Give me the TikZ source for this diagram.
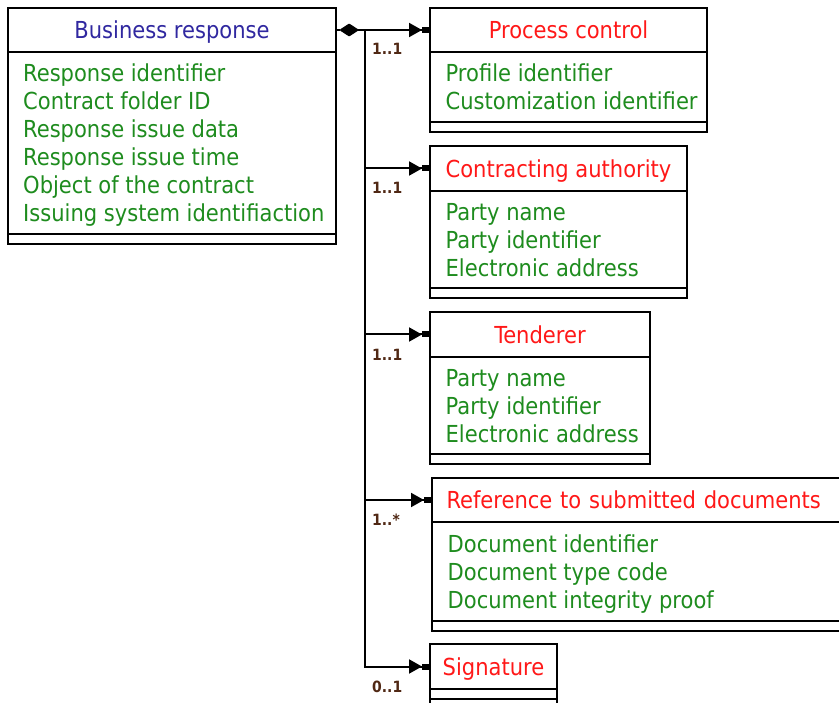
\documentclass[tikz,border=0pt]{standalone}
\usepackage{fontspec}
\setmainfont{DejaVu Sans Condensed}
\usetikzlibrary{arrows.meta,positioning}
\definecolor{ttlblue}{RGB}{48,40,160}
\definecolor{ttlred}{RGB}{255,24,24}
\definecolor{attrgreen}{RGB}{30,140,30}
\definecolor{multc}{RGB}{80,40,20}
\tikzset{
  box/.style={draw=black, line width=2pt, fill=white, inner sep=0pt, outer sep=0pt},
  hdrbox/.style={box, minimum height=44pt, text depth=0pt, font=\fontsize{23.4}{28}\selectfont},
  attrbox/.style={box},
  attrtext/.style={font=\fontsize{23.4}{28}\selectfont, text=attrgreen, align=left, inner sep=0pt, anchor=north west},
  footbox/.style={box, minimum height=10pt},
  conn/.style={line width=2pt},
  tipend/.style={-{Triangle[length=13pt,width=14pt,sep=0pt]Rectangle[length=8pt,width=6pt,sep=0pt]}},
  multlabel/.style={font=\fontsize{15.5}{17}\selectfont\bfseries, text=multc, anchor=west, inner sep=0pt}
}
\begin{document}
\begin{tikzpicture}[x=1pt,y=-1pt]
\useasboundingbox (0,0) rectangle (839,703);
\clip (0,0) rectangle (839,703);
% Business response
\node[hdrbox, minimum width=328pt, text=ttlblue] (br) at (172,30) {Business response};
\node[attrbox, minimum width=328pt, minimum height=182pt, anchor=north] (bra) at (br.south) {};
\node[attrtext] (brt) at ([xshift=15pt,yshift=-12pt]bra.north west)
  {Response identifier\\Contract folder ID\\Response issue data\\Response issue time\\Object of the contract\\Issuing system identifiaction};
\node[footbox, minimum width=328pt, anchor=north] (brf) at (bra.south) {};
% Process control
\node[hdrbox, minimum width=277pt, text=ttlred] (pc) at (568.5,30) {Process control};
\node[attrbox, minimum width=277pt, minimum height=70pt, anchor=north] (pca) at (pc.south) {};
\node[attrtext] (pct) at ([xshift=15.5pt,yshift=-12pt]pca.north west)
  {Profile identifier\\Customization identifier};
\node[footbox, minimum width=277pt, anchor=north] (pcf) at (pca.south) {};
% Contracting authority
\node[hdrbox, minimum width=257pt, minimum height=45pt, text=ttlred] (ca) at (558.5,168.5) {Contracting authority};
\node[attrbox, minimum width=257pt, minimum height=97pt, anchor=north] (caa) at (ca.south) {};
\node[attrtext] (cat) at ([xshift=15.5pt,yshift=-12.5pt]caa.north west)
  {Party name\\Party identifier\\Electronic address};
\node[footbox, minimum width=257pt, anchor=north] (caf) at (caa.south) {};
% Tenderer
\node[hdrbox, minimum width=220pt, minimum height=45pt, text=ttlred] (te) at (540,334.5) {Tenderer};
\node[attrbox, minimum width=220pt, minimum height=97pt, anchor=north] (tea) at (te.south) {};
\node[attrtext] (tet) at ([xshift=15.5pt,yshift=-12.5pt]tea.north west)
  {Party name\\Party identifier\\Electronic address};
\node[footbox, minimum width=220pt, anchor=north] (tef) at (tea.south) {};
% Reference to submitted documents
\node[hdrbox, minimum width=428pt, text=ttlred, text width=399pt, align=left] (rd) at (646,500) {Reference to submitted documents};
\node[attrbox, minimum width=428pt, minimum height=99pt, anchor=north] (rda) at (rd.south) {};
\node[attrtext] (rdt) at ([xshift=15.5pt,yshift=-12.5pt]rda.north west)
  {Document identifier\\Document type code\\Document integrity proof};
\node[footbox, minimum width=428pt, anchor=north] (rdf) at (rda.south) {};
% Signature
\node[hdrbox, minimum width=127pt, minimum height=45pt, text=ttlred] (sg) at (493.5,666.5) {Signature};
\node[footbox, minimum width=127pt, anchor=north] (sga) at (sg.south) {};
\node[footbox, minimum width=127pt, anchor=north] (sgf) at (sga.south) {};
% connectors
\coordinate (j) at ([xshift=29pt]br.east);
\draw[conn, {Diamond[length=20pt,width=13pt,round]}-] ([xshift=4pt]br.east) -- (j);
\draw[conn] (br.east) -- ++(4pt,0);
\draw[conn, tipend] (j) -- (pc.west);
\draw[conn] (j) |- (sg.west);
\draw[conn, tipend] (j) |- (ca.west);
\draw[conn, tipend] (j) |- (te.west);
\draw[conn, tipend] (j) |- (rd.west);
\draw[conn, tipend] (j |- sg.west) -- (sg.west);
% multiplicities
\node[multlabel] (m1) at ([xshift=7pt,yshift=-19pt]j) {1..1};
\node[multlabel] (m2) at ([xshift=7pt,yshift=-19.5pt]j |- ca.west) {1..1};
\node[multlabel] (m3) at ([xshift=7pt,yshift=-20pt]j |- te.west) {1..1};
\node[multlabel] (m4) at ([xshift=7pt,yshift=-20pt]j |- rd.west) {1..*};
\node[multlabel] (m5) at ([xshift=7pt,yshift=-20pt]j |- sg.west) {0..1};
\end{tikzpicture}
\end{document}
